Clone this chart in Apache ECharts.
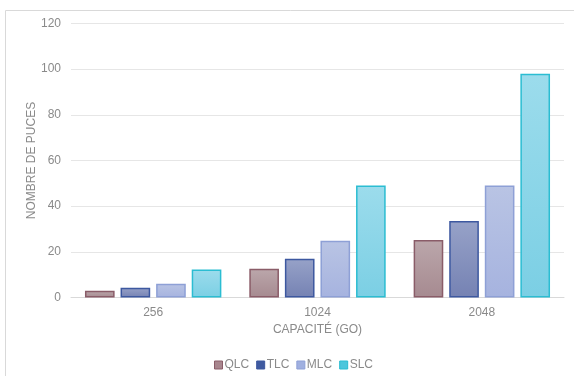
<!DOCTYPE html>
<html><head><meta charset="utf-8">
<script src="https://cdn.jsdelivr.net/npm/echarts@6/dist/echarts.min.js"></script>
<style>html,body{margin:0;padding:0;background:#fff}#c{width:574px;height:376px}</style>
</head><body><div id="c"></div>
<script>
const categories = ['256', '1024', '2048'];
const seriesNames = ['QLC', 'TLC', 'MLC', 'SLC'];
const qlc = [3, 12.6, 25.2];
const tlc = [4.3, 17, 33.5];
const mlc = [6, 24.8, 49];
const slc = [12.3, 49, 98];
const yTicks = [0, 20, 40, 60, 80, 100, 120];

const values = [qlc, tlc, mlc, slc];
const fills = [['#bba7ab', '#a68a90'], ['#97a2c8', '#7582b3'], ['#b9c4e4', '#a6b3df'], ['#9cdcec', '#7bcfe4']];
const borders = ['#8a5c68', '#3d58a0', '#8ea0d6', '#2bbdd2'];
const legendColors = ['#a8868e', '#3f5aa0', '#a0b0e0', '#4cc6dc'];

const chart = echarts.init(document.getElementById('c'), null, {renderer: 'canvas'});
const textColor = '#8a8a8a';
chart.setOption({
  animation: false,
  textStyle: {fontFamily: 'Liberation Sans, Arial, sans-serif'},
  graphic: [{
    type: 'polyline', silent: true,
    shape: {points: [[5.5, 380], [5.5, 10.5], [580, 10.5]]},
    style: {stroke: '#d9d9d9', lineWidth: 1, fill: null}
  }],
  legend: {
    bottom: 0, left: 209,
    itemWidth: 8, itemHeight: 8, itemGap: 7,
    textStyle: {color: textColor, fontSize: 12, padding: [0, 0, 0, -3]},
    data: seriesNames.map((n, i) => ({name: n, icon: 'rect', itemStyle: {color: legendColors[i], borderColor: borders[i], borderWidth: 1}}))
  },
  grid: {left: 71, right: 10, top: 23.5, bottom: 78.5},
  xAxis: {
    type: 'category', data: categories,
    name: 'CAPACITÉ (GO)', nameLocation: 'middle', nameGap: 26, nameMoveOverlap: false,
    nameTextStyle: {color: textColor, fontSize: 12},
    axisLine: {lineStyle: {color: '#d9d9d9'}},
    axisTick: {show: false},
    axisLabel: {color: textColor, fontSize: 12, margin: 9}
  },
  yAxis: {
    type: 'value', min: 0, max: 120, interval: 20,
    name: 'NOMBRE DE PUCES', nameLocation: 'middle', nameGap: 33, nameMoveOverlap: false,
    nameTextStyle: {color: textColor, fontSize: 12},
    axisLine: {show: false}, axisTick: {show: false},
    axisLabel: {color: textColor, fontSize: 12, margin: 10,
      formatter: v => yTicks.includes(v) ? String(v) : ''},
    splitLine: {lineStyle: {color: '#e6e6e6'}}
  },
  series: seriesNames.map((n, i) => ({
    name: n, type: 'bar', data: values[i],
    barGap: '20%', barCategoryGap: '17%',
    itemStyle: {
      color: new echarts.graphic.LinearGradient(0, 0, 0, 1, [{offset: 0, color: fills[i][0]}, {offset: 1, color: fills[i][1]}]),
      borderColor: borders[i], borderWidth: 1.5
    }
  }))
});
</script></body></html>
